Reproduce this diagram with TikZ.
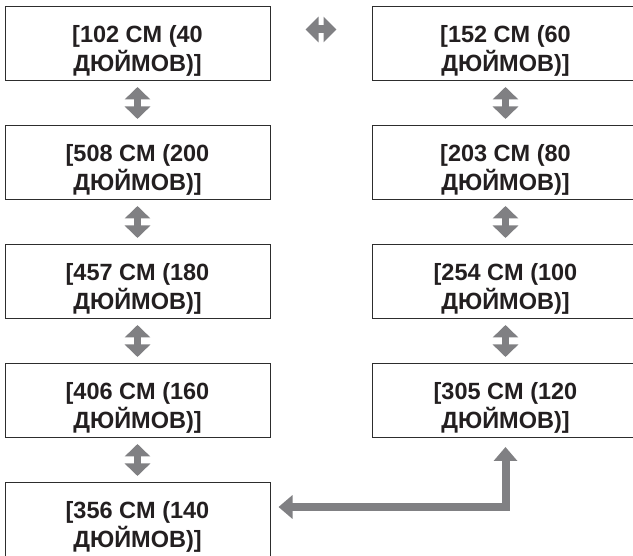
\documentclass[tikz,border=0pt]{standalone}
\usepackage{fontspec}
\setmainfont{Liberation Sans}
\usetikzlibrary{arrows.meta,positioning,calc}
\definecolor{arrowgray}{RGB}{128,128,131}
\definecolor{framegray}{RGB}{45,45,45}
\definecolor{inkblack}{RGB}{35,31,32}
\newcommand{\sizetext}[2]{\rule{0pt}{32pt}#1\\#2}

\begin{document}
\begin{tikzpicture}[x=1pt,y=-1pt,line join=miter,
    sizebox/.style={draw=framegray,line width=1pt,fill=white,minimum height=74pt,inner sep=0pt,
      align=center,text=inkblack,font=\fontsize{23.5}{28.5}\selectfont\bfseries},
    leftbox/.style={sizebox,minimum width=265pt},
    rightbox/.style={sizebox,minimum width=267pt},
    vdbl/.style={draw=arrowgray,line width=7pt,shorten <=6pt,shorten >=6pt,
      {Triangle[width=25pt,length=12.5pt]}-{Triangle[width=25pt,length=12.5pt]}},
    hdbl/.style={draw=arrowgray,line width=8pt,shorten <=35pt,shorten >=35pt,
      {Triangle[width=25pt,length=13pt]}-{Triangle[width=25pt,length=13pt]}},
    fatarrow/.style={draw=arrowgray,line width=8pt,shorten <=8pt,shorten >=9pt,
      {Triangle[width=23pt,length=14pt]}-{Triangle[width=23pt,length=14pt]}}]
      \clip (0,0) rectangle (633,556);

      \node[leftbox] (L1) at (137.5,43.5) {\sizetext{[102 CM (40}{ДЮЙМОВ)]}};
      \node[leftbox] (L2) at (137.5,162.5) {\sizetext{[508 CM (200}{ДЮЙМОВ)]}};
      \node[leftbox] (L3) at (137.5,281.5) {\sizetext{[457 CM (180}{ДЮЙМОВ)]}};
      \node[leftbox] (L4) at (137.5,400.5) {\sizetext{[406 CM (160}{ДЮЙМОВ)]}};
      \node[leftbox] (L5) at (137.5,519.5) {\sizetext{[356 CM (140}{ДЮЙМОВ)]}};

      \node[rightbox] (R1) at (505.5,43.5) {\sizetext{[152 CM (60}{ДЮЙМОВ)]}};
      \node[rightbox] (R2) at (505.5,162.5) {\sizetext{[203 CM (80}{ДЮЙМОВ)]}};
      \node[rightbox] (R3) at (505.5,281.5) {\sizetext{[254 CM (100}{ДЮЙМОВ)]}};
      \node[rightbox] (R4) at (505.5,400.5) {\sizetext{[305 CM (120}{ДЮЙМОВ)]}};

      \draw[hdbl] ([yshift=14pt]L1.east) -- ([yshift=14pt]R1.west);

      \draw[vdbl] (L1.south) -- (L2.north);
      \draw[vdbl] (L2.south) -- (L3.north);
      \draw[vdbl] (L3.south) -- (L4.north);
      \draw[vdbl] (L4.south) -- (L5.north);

      \draw[vdbl] (R1.south) -- (R2.north);
      \draw[vdbl] (R2.south) -- (R3.north);
      \draw[vdbl] (R3.south) -- (R4.north);

      \draw[fatarrow] ([yshift=12.5pt]L5.east) -| (R4.south);
\end{tikzpicture}
\end{document}
